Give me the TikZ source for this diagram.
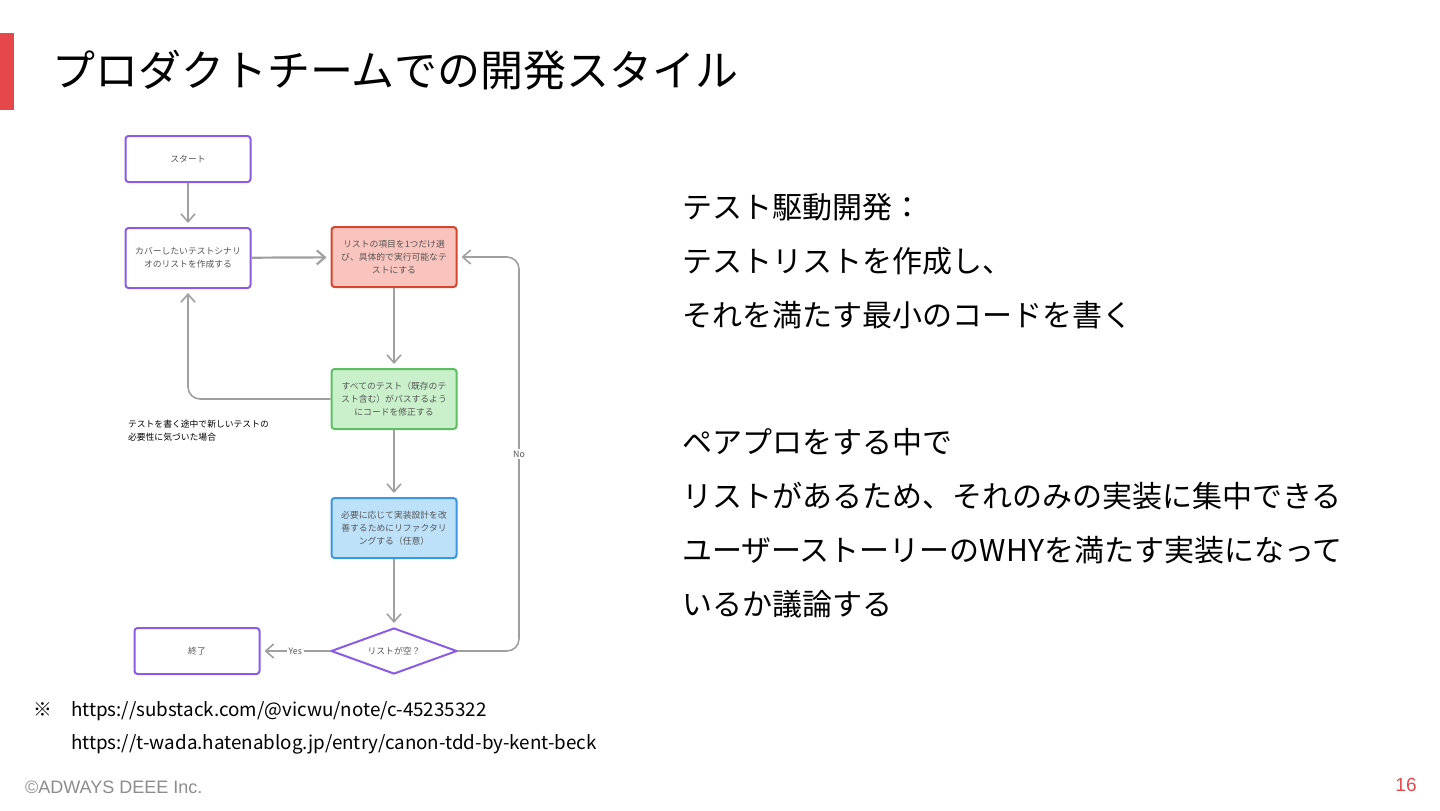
\documentclass[tikz,border=0pt]{standalone}
\usepackage{fontspec}
\setmainfont{Noto Sans CJK JP}
\newfontfamily\footfont{Liberation Sans}
\usetikzlibrary{shapes.geometric,arrows.meta}

\definecolor{barred}{HTML}{E5474B}
\definecolor{boxpurple}{HTML}{8A5CE6}
\definecolor{boxtext}{HTML}{555555}
\definecolor{flowgray}{HTML}{A0A0A0}
\definecolor{pickfill}{HTML}{FAC4BE}
\definecolor{pickline}{HTML}{D6452E}
\definecolor{passfill}{HTML}{C9F0CB}
\definecolor{passline}{HTML}{5DBE63}
\definecolor{refacfill}{HTML}{BEE1FA}
\definecolor{refacline}{HTML}{3B97E3}
\definecolor{footgray}{HTML}{8C8C8C}

\begin{document}
\begin{tikzpicture}[
    x = 0.5pt,
    y = -0.5pt,
    >={Straight Barb[length=4pt,width=7pt]},
    box/.style = {draw=boxpurple, line width=1pt, rounded corners=1.5pt, fill=white,
              minimum width=62.5pt, minimum height=30pt, inner sep=1pt,
              align=center, text=boxtext, font=\fontsize{4.4}{6.6}\selectfont},
    endbox/.style = {box, minimum height=23pt},
    pickbox/.style = {box, draw=pickline, fill=pickfill},
    passbox/.style = {box, draw=passline, fill=passfill},
    refacbox/.style = {box, draw=refacline, fill=refacfill},
    check/.style = {diamond, aspect=2.74, draw=boxpurple, line width=1pt, fill=white,
              minimum width=63pt, minimum height=23pt, inner sep=0pt,
              text=boxtext, font=\fontsize{4.4}{6.6}\selectfont},
    flow/.style = {->, draw=flowgray, line width=0.8pt, shorten >=2pt},
    lbl/.style = {fill=white, inner sep=1pt, text=boxtext,
              font=\fontsize{4.4}{6.6}\selectfont},
    bodytext/.style = {anchor=west, align=left, font=\fontsize{15}{27}\selectfont},
    ]

\useasboundingbox (0,0) rectangle (1440,810);

% title
\fill[barred] (0,33) rectangle (14,110);
\node[anchor=west, font=\fontsize{21.5}{26}\selectfont] (title) at (45,70)
    {プロダクトチームでの開発スタイル};

% flow chart
\node[endbox] (start) at (188,159) {スタート};
\node[box] (cover) at (188,258) {カバーしたいテストシナリ\\オのリストを作成する};
\node[pickbox] (pick) at (394,257) {リストの項目を1つだけ選\\び、具体的で実行可能なテ\\ストにする};
\node[passbox] (pass) at (394,399) {すべてのテスト（既存のテ\\スト含む）がパスするよう\\にコードを修正する};
\node[refacbox] (refac) at (394,528) {必要に応じて実装設計を改\\善するためにリファクタリ\\ングする（任意）};
\node[check] (empty) at (394,651) {リストが空？};
\node[endbox] (finish) at (197,651) {終了};
\coordinate (loop_no) at (519,454);

\draw[flow] (start) -- (cover);
\draw[flow, line width=1.1pt] (cover) -- (pick);
\draw[flow] (pick) -- (pass);
\draw[flow, rounded corners=6pt] (pass.west) -| (cover.south);
\draw[flow] (pass) -- (refac);
\draw[flow] (refac) -- (empty);
\draw[flow] (empty.west) -- node[lbl] {Yes} (finish.east);
\draw[flow, rounded corners=6pt] (empty.east) -| (loop_no) |- (pick.east);
\node[lbl] (no_lbl) at (loop_no) {No};

\node[anchor=north west, align=left, font=\fontsize{4.4}{6.6}\selectfont] (note_new)
    at (121,413) {テストを書く途中で新しいテストの\\必要性に気づいた場合};

% right text
\node[bodytext] (text_tdd) at (675,261)
    {テスト駆動開発：\\テストリストを作成し、\\それを満たす最小のコードを書く};
\node[bodytext] (text_pair) at (675,523)
    {ペアプロをする中で\\リストがあるため、それのみの実装に集中できる\\ユーザーストーリーのWHYを満たす実装になって\\いるか議論する};

% footnotes
\node[font=\fontsize{9.4}{11}\selectfont] (note_mark) at (43,710) {※};
\node[anchor=west, font=\fontsize{9.4}{11}\selectfont] (note_url1) at (64,711)
    {https://substack.com/@vicwu/note/c-45235322};
\node[anchor=west, font=\fontsize{9.4}{11}\selectfont] (note_url2) at (64,744)
    {https://t-wada.hatenablog.jp/entry/canon-tdd-by-kent-beck};
\node[anchor=west, text=footgray, font=\footfont\fontsize{9}{10}\selectfont] (copyright) at (18,787)
    {©ADWAYS DEEE Inc.};
\node[text=barred, font=\footfont\fontsize{9.5}{11}\selectfont] (page_no) at (1406,785) {16};

\end{tikzpicture}
\end{document}
